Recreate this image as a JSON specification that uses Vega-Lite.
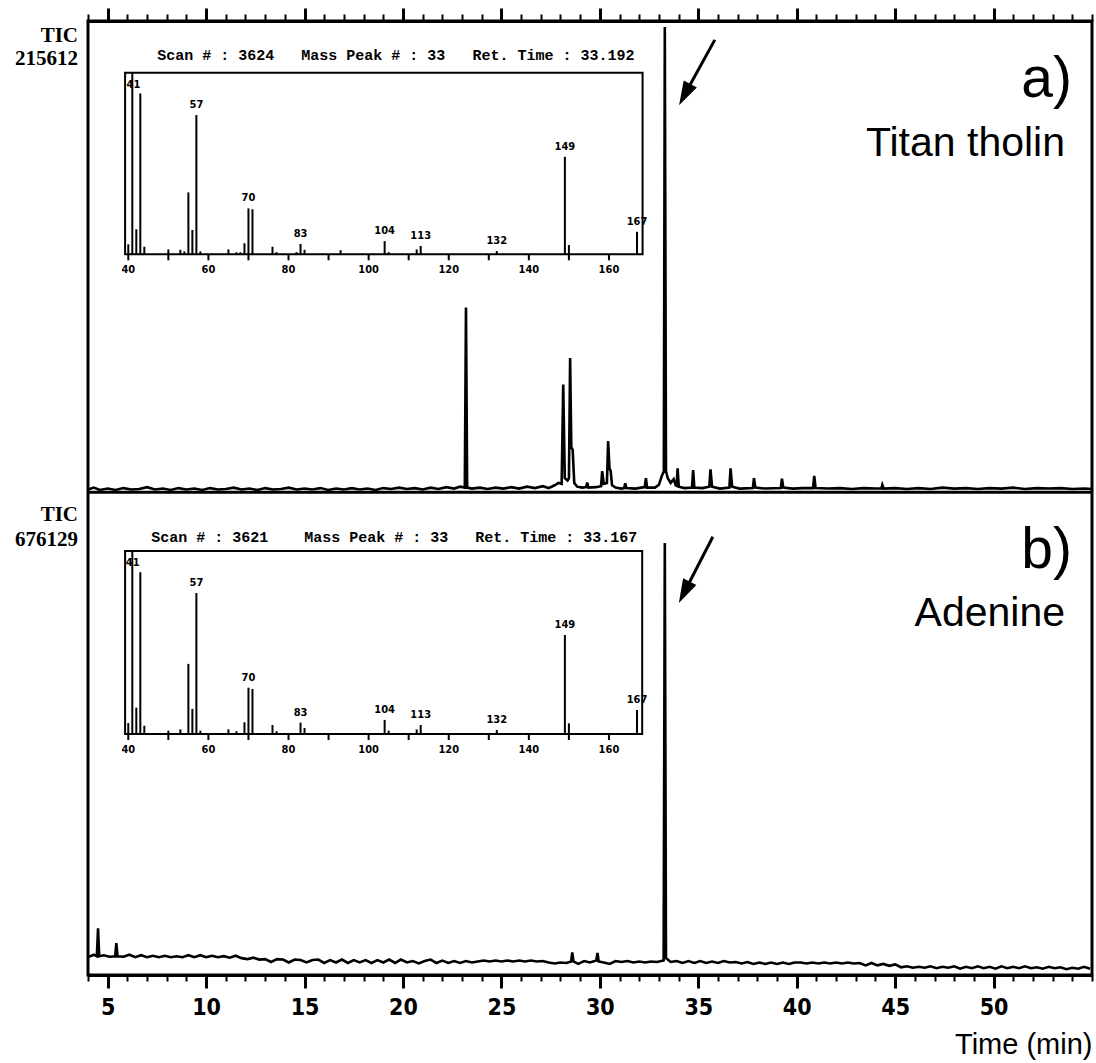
{
"$schema": "https://vega.github.io/schema/vega-lite/v6.json",
"width": 1004, "height": 954,
"autosize": {"type": "none"},
"padding": {"left": 88, "top": 21, "right": 4, "bottom": 88},
"background": "white",
"config": {"view": {"stroke": "black", "strokeWidth": 3}, "axis": {"grid": false, "domain": false}},
"datasets": {
"chromA": [{"t":4.0,"v":0.6},{"t":4.3,"v":1.0},{"t":4.6,"v":0.5},{"t":5.0,"v":0.8},{"t":5.4,"v":0.5},{"t":5.8,"v":0.9},{"t":6.2,"v":0.6},{"t":6.6,"v":0.7},{"t":7.0,"v":1.1},{"t":7.4,"v":0.6},{"t":7.8,"v":0.8},{"t":8.2,"v":0.5},{"t":8.6,"v":0.9},{"t":9.0,"v":0.6},{"t":9.4,"v":0.8},{"t":9.8,"v":0.5},{"t":10.2,"v":0.9},{"t":10.6,"v":0.6},{"t":11.0,"v":0.7},{"t":11.4,"v":1.0},{"t":11.8,"v":0.6},{"t":12.2,"v":0.8},{"t":12.6,"v":0.5},{"t":13.0,"v":0.9},{"t":13.4,"v":0.6},{"t":13.8,"v":0.7},{"t":14.2,"v":1.0},{"t":14.6,"v":0.6},{"t":15.0,"v":0.8},{"t":15.4,"v":0.6},{"t":15.8,"v":0.9},{"t":16.2,"v":0.5},{"t":16.6,"v":0.8},{"t":17.0,"v":0.6},{"t":17.4,"v":0.9},{"t":17.8,"v":0.6},{"t":18.2,"v":0.8},{"t":18.6,"v":0.5},{"t":19.0,"v":0.9},{"t":19.4,"v":0.7},{"t":19.8,"v":1.0},{"t":20.2,"v":0.7},{"t":20.6,"v":0.9},{"t":21.0,"v":0.6},{"t":21.4,"v":1.0},{"t":21.8,"v":0.7},{"t":22.2,"v":1.1},{"t":22.6,"v":0.8},{"t":22.9,"v":1.2},{"t":23.14,"v":1.0},{"t":23.2,"v":39.2},{"t":23.26,"v":1.0},{"t":23.5,"v":0.8},{"t":23.9,"v":1.0},{"t":24.3,"v":0.7},{"t":24.7,"v":1.0},{"t":25.1,"v":0.8},{"t":25.5,"v":1.1},{"t":25.9,"v":0.8},{"t":26.3,"v":1.2},{"t":26.7,"v":0.9},{"t":27.1,"v":1.3},{"t":27.4,"v":0.9},{"t":27.7,"v":1.5},{"t":27.9,"v":2.0},{"t":28.06,"v":1.8},{"t":28.14,"v":22.9},{"t":28.22,"v":3.0},{"t":28.36,"v":2.5},{"t":28.43,"v":3.0},{"t":28.49,"v":28.5},{"t":28.55,"v":9.6},{"t":28.62,"v":9.0},{"t":28.7,"v":2.0},{"t":28.85,"v":1.2},{"t":29.1,"v":1.0},{"t":29.3,"v":1.1},{"t":29.36,"v":2.1},{"t":29.42,"v":1.0},{"t":29.8,"v":1.1},{"t":30.06,"v":1.3},{"t":30.12,"v":4.5},{"t":30.2,"v":1.8},{"t":30.36,"v":2.0},{"t":30.42,"v":10.9},{"t":30.49,"v":5.1},{"t":30.55,"v":4.5},{"t":30.62,"v":1.5},{"t":30.8,"v":1.0},{"t":31.1,"v":0.8},{"t":31.23,"v":0.9},{"t":31.29,"v":1.9},{"t":31.35,"v":0.9},{"t":31.8,"v":0.8},{"t":32.1,"v":1.0},{"t":32.28,"v":1.1},{"t":32.34,"v":3.0},{"t":32.4,"v":1.0},{"t":32.8,"v":1.0},{"t":33.0,"v":1.6},{"t":33.15,"v":3.5},{"t":33.25,"v":4.5},{"t":33.3,"v":98.7},{"t":33.36,"v":4.5},{"t":33.45,"v":3.0},{"t":33.6,"v":2.0},{"t":33.75,"v":2.8},{"t":33.85,"v":1.5},{"t":33.9,"v":1.4},{"t":33.95,"v":5.1},{"t":34.01,"v":1.2},{"t":34.3,"v":0.9},{"t":34.68,"v":1.0},{"t":34.74,"v":4.7},{"t":34.8,"v":1.0},{"t":35.2,"v":0.9},{"t":35.56,"v":1.2},{"t":35.62,"v":4.9},{"t":35.7,"v":1.2},{"t":36.1,"v":0.8},{"t":36.58,"v":1.0},{"t":36.64,"v":5.1},{"t":36.72,"v":1.2},{"t":37.1,"v":0.8},{"t":37.77,"v":0.9},{"t":37.83,"v":3.0},{"t":37.9,"v":1.0},{"t":38.4,"v":0.8},{"t":39.19,"v":0.9},{"t":39.25,"v":2.9},{"t":39.32,"v":1.0},{"t":39.8,"v":0.8},{"t":40.3,"v":0.9},{"t":40.83,"v":0.9},{"t":40.89,"v":3.5},{"t":40.96,"v":0.9},{"t":41.6,"v":0.8},{"t":42.2,"v":0.9},{"t":42.8,"v":0.7},{"t":43.4,"v":0.9},{"t":44.0,"v":0.8},{"t":44.3,"v":0.8},{"t":44.35,"v":1.6},{"t":44.42,"v":0.8},{"t":45.0,"v":0.9},{"t":45.6,"v":0.7},{"t":46.2,"v":0.9},{"t":46.8,"v":0.7},{"t":47.4,"v":1.0},{"t":48.0,"v":0.8},{"t":48.6,"v":0.9},{"t":49.2,"v":0.7},{"t":49.8,"v":0.9},{"t":50.4,"v":0.8},{"t":51.0,"v":1.0},{"t":51.6,"v":0.7},{"t":52.2,"v":0.9},{"t":52.8,"v":0.8},{"t":53.4,"v":0.9},{"t":54.0,"v":0.7},{"t":54.6,"v":0.8},{"t":55.0,"v":0.7}],
"chromB": [{"t":4.0,"v":3.7},{"t":4.3,"v":4.2},{"t":4.45,"v":3.9},{"t":4.51,"v":9.7},{"t":4.57,"v":3.9},{"t":4.8,"v":4.1},{"t":5.1,"v":3.8},{"t":5.38,"v":3.9},{"t":5.44,"v":6.6},{"t":5.5,"v":3.9},{"t":5.8,"v":3.8},{"t":6.1,"v":4.2},{"t":6.4,"v":3.7},{"t":6.7,"v":4.1},{"t":7.0,"v":3.7},{"t":7.3,"v":4.0},{"t":7.6,"v":3.7},{"t":7.9,"v":4.0},{"t":8.2,"v":3.7},{"t":8.5,"v":3.9},{"t":8.8,"v":3.7},{"t":9.1,"v":4.1},{"t":9.4,"v":3.7},{"t":9.7,"v":4.1},{"t":10.0,"v":3.7},{"t":10.3,"v":4.0},{"t":10.6,"v":3.7},{"t":10.9,"v":3.9},{"t":11.2,"v":3.6},{"t":11.5,"v":4.0},{"t":11.8,"v":3.5},{"t":12.1,"v":3.3},{"t":12.4,"v":3.6},{"t":12.7,"v":3.2},{"t":13.0,"v":3.3},{"t":13.3,"v":2.7},{"t":13.6,"v":3.3},{"t":13.9,"v":3.2},{"t":14.2,"v":2.6},{"t":14.5,"v":3.2},{"t":14.8,"v":3.1},{"t":15.1,"v":2.6},{"t":15.4,"v":3.1},{"t":15.7,"v":3.2},{"t":16.0,"v":2.5},{"t":16.3,"v":3.1},{"t":16.6,"v":2.6},{"t":16.9,"v":3.2},{"t":17.2,"v":2.5},{"t":17.5,"v":3.1},{"t":17.8,"v":2.6},{"t":18.1,"v":3.1},{"t":18.4,"v":2.5},{"t":18.7,"v":3.1},{"t":19.0,"v":2.6},{"t":19.3,"v":3.2},{"t":19.6,"v":2.5},{"t":19.9,"v":3.2},{"t":20.2,"v":2.6},{"t":20.5,"v":2.9},{"t":20.8,"v":2.4},{"t":21.1,"v":2.9},{"t":21.4,"v":3.2},{"t":21.7,"v":2.5},{"t":22.0,"v":3.0},{"t":22.3,"v":2.5},{"t":22.6,"v":2.9},{"t":22.9,"v":2.5},{"t":23.2,"v":2.9},{"t":23.5,"v":2.6},{"t":23.8,"v":2.8},{"t":24.1,"v":3.0},{"t":24.4,"v":2.8},{"t":24.7,"v":3.0},{"t":25.0,"v":2.8},{"t":25.3,"v":3.0},{"t":25.6,"v":2.8},{"t":25.9,"v":3.0},{"t":26.2,"v":2.8},{"t":26.5,"v":3.0},{"t":26.8,"v":2.8},{"t":27.1,"v":2.9},{"t":27.4,"v":2.6},{"t":27.7,"v":2.4},{"t":28.0,"v":2.6},{"t":28.3,"v":2.5},{"t":28.54,"v":2.8},{"t":28.6,"v":4.7},{"t":28.66,"v":2.8},{"t":28.9,"v":2.3},{"t":29.2,"v":2.9},{"t":29.5,"v":2.6},{"t":29.82,"v":3.0},{"t":29.88,"v":4.6},{"t":29.94,"v":2.8},{"t":30.2,"v":2.6},{"t":30.5,"v":2.3},{"t":30.8,"v":2.9},{"t":31.1,"v":2.7},{"t":31.4,"v":2.9},{"t":31.7,"v":2.6},{"t":32.0,"v":2.8},{"t":32.3,"v":2.6},{"t":32.6,"v":2.8},{"t":32.9,"v":2.7},{"t":33.24,"v":3.0},{"t":33.3,"v":89.6},{"t":33.36,"v":3.5},{"t":33.6,"v":2.7},{"t":33.9,"v":2.9},{"t":34.2,"v":2.5},{"t":34.5,"v":2.9},{"t":34.8,"v":2.5},{"t":35.1,"v":2.9},{"t":35.4,"v":2.5},{"t":35.7,"v":2.8},{"t":36.0,"v":2.5},{"t":36.3,"v":2.9},{"t":36.6,"v":2.6},{"t":36.9,"v":2.7},{"t":37.2,"v":2.4},{"t":37.5,"v":2.7},{"t":37.8,"v":2.3},{"t":38.1,"v":2.6},{"t":38.4,"v":2.3},{"t":38.7,"v":2.6},{"t":39.0,"v":2.3},{"t":39.3,"v":2.6},{"t":39.6,"v":2.3},{"t":39.9,"v":2.6},{"t":40.2,"v":2.6},{"t":40.5,"v":2.4},{"t":40.8,"v":2.6},{"t":41.1,"v":2.4},{"t":41.4,"v":2.6},{"t":41.7,"v":2.4},{"t":42.0,"v":2.6},{"t":42.3,"v":2.4},{"t":42.6,"v":2.6},{"t":42.9,"v":2.4},{"t":43.2,"v":2.5},{"t":43.5,"v":2.0},{"t":43.8,"v":2.5},{"t":44.1,"v":2.0},{"t":44.4,"v":2.3},{"t":44.7,"v":1.9},{"t":45.0,"v":2.2},{"t":45.3,"v":1.6},{"t":45.6,"v":1.8},{"t":45.9,"v":1.5},{"t":46.2,"v":1.7},{"t":46.5,"v":1.5},{"t":46.8,"v":1.8},{"t":47.1,"v":1.4},{"t":47.4,"v":1.7},{"t":47.7,"v":1.5},{"t":48.0,"v":1.8},{"t":48.3,"v":1.3},{"t":48.6,"v":1.7},{"t":48.9,"v":1.4},{"t":49.2,"v":1.8},{"t":49.5,"v":1.4},{"t":49.8,"v":1.7},{"t":50.1,"v":1.3},{"t":50.4,"v":1.8},{"t":50.7,"v":1.4},{"t":51.0,"v":1.7},{"t":51.3,"v":1.4},{"t":51.6,"v":1.8},{"t":51.9,"v":1.4},{"t":52.2,"v":1.6},{"t":52.5,"v":1.3},{"t":52.8,"v":1.7},{"t":53.1,"v":1.4},{"t":53.4,"v":1.6},{"t":53.7,"v":1.2},{"t":54.0,"v":1.5},{"t":54.3,"v":1.3},{"t":54.6,"v":1.7},{"t":54.9,"v":1.3}],
"specA": [{"mz":40,"rel":5.5},{"mz":41,"rel":100},{"mz":42,"rel":13.8},{"mz":43,"rel":88.6},{"mz":44,"rel":4.2},{"mz":50,"rel":2.7},{"mz":53,"rel":2.5},{"mz":54,"rel":1.6},{"mz":55,"rel":34.1},{"mz":56,"rel":13.4},{"mz":57,"rel":76.7},{"mz":58,"rel":1.6},{"mz":65,"rel":2.7},{"mz":67,"rel":1.1},{"mz":68,"rel":1.1},{"mz":69,"rel":6.1},{"mz":70,"rel":25.3},{"mz":71,"rel":24.8},{"mz":76,"rel":4.2},{"mz":77,"rel":1.2},{"mz":82,"rel":1.2},{"mz":83,"rel":5.7},{"mz":84,"rel":2.5},{"mz":93,"rel":2.3},{"mz":104,"rel":7.3},{"mz":105,"rel":1.2},{"mz":112,"rel":2.7},{"mz":113,"rel":4.6},{"mz":132,"rel":1.8},{"mz":149,"rel":53.7},{"mz":150,"rel":5.1},{"mz":167,"rel":12.4}],
"specB": [{"mz":40,"rel":6},{"mz":41,"rel":100},{"mz":42,"rel":14.4},{"mz":43,"rel":88.4},{"mz":44,"rel":4.5},{"mz":50,"rel":1.8},{"mz":53,"rel":2.5},{"mz":55,"rel":38.3},{"mz":56,"rel":13.7},{"mz":57,"rel":77},{"mz":58,"rel":1.8},{"mz":65,"rel":2.5},{"mz":67,"rel":1.5},{"mz":69,"rel":6.4},{"mz":70,"rel":25.3},{"mz":71,"rel":24.6},{"mz":76,"rel":4.9},{"mz":77,"rel":1.5},{"mz":83,"rel":6.2},{"mz":84,"rel":3.3},{"mz":104,"rel":7.7},{"mz":105,"rel":1.8},{"mz":112,"rel":2.5},{"mz":113,"rel":4.9},{"mz":132,"rel":2.2},{"mz":149,"rel":54.1},{"mz":150,"rel":5.8},{"mz":167,"rel":13.1}],
"mzTicks": [{"mz":40},{"mz":50},{"mz":60},{"mz":70},{"mz":80},{"mz":90},{"mz":100},{"mz":110},{"mz":120},{"mz":130},{"mz":140},{"mz":150},{"mz":160}]
},
"resolve": {"scale": {"x": "independent", "y": "independent"}, "axis": {"x": "independent", "y": "independent"}},
"layer": [
{
"resolve": {"axis": {"x": "independent"}},
"layer": [
{"data": {"name": "chromA"}, "mark": {"type": "line", "color": "black", "strokeWidth": 2.6},
 "encoding": {
  "x": {"field": "t", "type": "quantitative", "scale": {"domain": [4, 55], "nice": false, "zero": false},
        "axis": {"orient": "top", "values": [5,10,15,20,25,30,35,40,45,50], "tickSize": 13, "tickWidth": 3, "tickColor": "black", "labels": false, "domain": true, "domainColor": "black", "domainWidth": 3, "title": null}},
  "y": {"field": "v", "type": "quantitative", "scale": {"domain": [-102.4, 100], "nice": false, "zero": false}, "axis": null}}},
{"data": {"values": [{}]}, "mark": {"type": "rule", "color": "black", "strokeWidth": 3},
 "encoding": {
  "x": {"datum": 4, "type": "quantitative", "scale": {"domain": [4, 55], "nice": false, "zero": false},
        "axis": {"orient": "top", "values": [4,5,6,7,8,9,10,11,12,13,14,15,16,17,18,19,20,21,22,23,24,25,26,27,28,29,30,31,32,33,34,35,36,37,38,39,40,41,42,43,44,45,46,47,48,49,50,51,52,53,54,55], "tickSize": 7, "tickWidth": 2, "tickColor": "black", "labels": false, "domain": false, "title": null}},
  "x2": {"datum": 55},
  "y": {"datum": 0, "type": "quantitative", "scale": {"domain": [-102.4, 100], "nice": false, "zero": false}, "axis": null}}},
{"data": {"values": [{}]}, "mark": {"type": "text", "text": "TIC", "align": "right", "baseline": "middle", "dx": -10, "font": "Liberation Serif", "fontSize": 21, "fontWeight": "bold", "color": "black"},
 "encoding": {
  "x": {"datum": 4, "type": "quantitative", "scale": {"domain": [4, 55], "nice": false, "zero": false}, "axis": null},
  "y": {"datum": 96.8, "type": "quantitative", "scale": {"domain": [-102.4, 100], "nice": false, "zero": false}, "axis": null}}},
{"data": {"values": [{}]}, "mark": {"type": "text", "text": "215612", "align": "right", "baseline": "middle", "dx": -10, "font": "Liberation Serif", "fontSize": 21, "fontWeight": "bold", "color": "black"},
 "encoding": {
  "x": {"datum": 4, "type": "quantitative", "scale": {"domain": [4, 55], "nice": false, "zero": false}, "axis": null},
  "y": {"datum": 92.0, "type": "quantitative", "scale": {"domain": [-102.4, 100], "nice": false, "zero": false}, "axis": null}}},
{"data": {"values": [{}]}, "mark": {"type": "text", "text": "a)", "align": "right", "baseline": "alphabetic", "font": "Liberation Sans", "fontSize": 57, "color": "black"},
 "encoding": {
  "x": {"datum": 53.98, "type": "quantitative", "scale": {"domain": [4, 55], "nice": false, "zero": false}, "axis": null},
  "y": {"datum": 83.9, "type": "quantitative", "scale": {"domain": [-102.4, 100], "nice": false, "zero": false}, "axis": null}}},
{"data": {"values": [{}]}, "mark": {"type": "text", "text": "Titan tholin", "align": "right", "baseline": "alphabetic", "font": "Liberation Sans", "fontSize": 41, "color": "black"},
 "encoding": {
  "x": {"datum": 53.63, "type": "quantitative", "scale": {"domain": [4, 55], "nice": false, "zero": false}, "axis": null},
  "y": {"datum": 71.4, "type": "quantitative", "scale": {"domain": [-102.4, 100], "nice": false, "zero": false}, "axis": null}}},
{"data": {"values": [{}]}, "mark": {"type": "rule", "color": "black", "strokeWidth": 3},
 "encoding": {
  "x": {"datum": 35.84, "type": "quantitative", "scale": {"domain": [4, 55], "nice": false, "zero": false}, "axis": null},
  "x2": {"datum": 34.31},
  "y": {"datum": 96.0, "type": "quantitative", "scale": {"domain": [-102.4, 100], "nice": false, "zero": false}, "axis": null},
  "y2": {"datum": 84.4}}},
{"data": {"values": [{}]}, "mark": {"type": "point", "shape": "M0,-1L-0.62,1L0.62,1Z", "filled": true, "color": "black", "opacity": 1, "size": 576, "angle": 208},
 "encoding": {
  "x": {"datum": 34.31, "type": "quantitative", "scale": {"domain": [4, 55], "nice": false, "zero": false}, "axis": null},
  "y": {"datum": 84.4, "type": "quantitative", "scale": {"domain": [-102.4, 100], "nice": false, "zero": false}, "axis": null}}}
]
},
{
"resolve": {"axis": {"x": "independent"}},
"layer": [
{"data": {"name": "chromB"}, "mark": {"type": "line", "color": "black", "strokeWidth": 2.6},
 "encoding": {
  "x": {"field": "t", "type": "quantitative", "scale": {"domain": [4, 55], "nice": false, "zero": false},
        "axis": {"orient": "bottom", "values": [5,10,15,20,25,30,35,40,45,50], "tickSize": 13, "tickWidth": 3, "tickColor": "black", "domain": true, "domainColor": "black", "domainWidth": 3,
                 "labelFont": "Liberation Sans Narrow, DejaVu Sans Condensed, sans-serif", "labelFontSize": 23, "labelFontWeight": "bold", "labelColor": "black", "labelPadding": 8, "labelFlush": false,
                 "title": "Time (min)", "titleFont": "Liberation Sans", "titleFontSize": 29, "titleFontWeight": "normal", "titleColor": "black", "titleAnchor": "end", "titlePadding": 11}},
  "y": {"field": "v", "type": "quantitative", "scale": {"domain": [0, 197.9], "nice": false, "zero": false}, "axis": null}}},
{"data": {"values": [{}]}, "mark": {"type": "rule", "color": "black", "strokeWidth": 3},
 "encoding": {
  "x": {"datum": 35.74, "type": "quantitative", "scale": {"domain": [4, 55], "nice": false, "zero": false},
        "axis": {"orient": "bottom", "values": [4,5,6,7,8,9,10,11,12,13,14,15,16,17,18,19,20,21,22,23,24,25,26,27,28,29,30,31,32,33,34,35,36,37,38,39,40,41,42,43,44,45,46,47,48,49,50,51,52,53,54,55], "tickSize": 6, "tickWidth": 2, "tickColor": "black", "labels": false, "domain": false, "title": null}},
  "x2": {"datum": 34.29},
  "y": {"datum": 90.9, "type": "quantitative", "scale": {"domain": [0, 197.9], "nice": false, "zero": false}, "axis": null},
  "y2": {"datum": 79.4}}},
{"data": {"values": [{}]}, "mark": {"type": "point", "shape": "M0,-1L-0.62,1L0.62,1Z", "filled": true, "color": "black", "opacity": 1, "size": 576, "angle": 207},
 "encoding": {
  "x": {"datum": 34.29, "type": "quantitative", "scale": {"domain": [4, 55], "nice": false, "zero": false}, "axis": null},
  "y": {"datum": 79.4, "type": "quantitative", "scale": {"domain": [0, 197.9], "nice": false, "zero": false}, "axis": null}}},
{"data": {"values": [{}]}, "mark": {"type": "text", "text": "TIC", "align": "right", "baseline": "middle", "dx": -10, "font": "Liberation Serif", "fontSize": 21, "fontWeight": "bold", "color": "black"},
 "encoding": {
  "x": {"datum": 4, "type": "quantitative", "scale": {"domain": [4, 55], "nice": false, "zero": false}, "axis": null},
  "y": {"datum": 95.4, "type": "quantitative", "scale": {"domain": [0, 197.9], "nice": false, "zero": false}, "axis": null}}},
{"data": {"values": [{}]}, "mark": {"type": "text", "text": "676129", "align": "right", "baseline": "middle", "dx": -10, "font": "Liberation Serif", "fontSize": 21, "fontWeight": "bold", "color": "black"},
 "encoding": {
  "x": {"datum": 4, "type": "quantitative", "scale": {"domain": [4, 55], "nice": false, "zero": false}, "axis": null},
  "y": {"datum": 90.2, "type": "quantitative", "scale": {"domain": [0, 197.9], "nice": false, "zero": false}, "axis": null}}},
{"data": {"values": [{}]}, "mark": {"type": "text", "text": "b)", "align": "right", "baseline": "alphabetic", "font": "Liberation Sans", "fontSize": 57, "color": "black"},
 "encoding": {
  "x": {"datum": 53.98, "type": "quantitative", "scale": {"domain": [4, 55], "nice": false, "zero": false}, "axis": null},
  "y": {"datum": 84.4, "type": "quantitative", "scale": {"domain": [0, 197.9], "nice": false, "zero": false}, "axis": null}}},
{"data": {"values": [{}]}, "mark": {"type": "text", "text": "Adenine", "align": "right", "baseline": "alphabetic", "font": "Liberation Sans", "fontSize": 41, "color": "black"},
 "encoding": {
  "x": {"datum": 53.63, "type": "quantitative", "scale": {"domain": [4, 55], "nice": false, "zero": false}, "axis": null},
  "y": {"datum": 72.4, "type": "quantitative", "scale": {"domain": [0, 197.9], "nice": false, "zero": false}, "axis": null}}}
]
},
{
"layer": [
{"data": {"name": "specA"}, "mark": {"type": "rule", "color": "black", "strokeWidth": 2},
 "encoding": {
  "x": {"field": "mz", "type": "quantitative", "scale": {"domain": [29.94, 280.6], "nice": false, "zero": false}, "axis": null},
  "y": {"field": "rel", "type": "quantitative", "scale": {"domain": [-396.9, 128.5], "nice": false, "zero": false}, "axis": null},
  "y2": {"datum": 0}}},
{"data": {"name": "mzTicks"}, "mark": {"type": "rule", "color": "black", "strokeWidth": 2},
 "encoding": {
  "x": {"field": "mz", "type": "quantitative", "scale": {"domain": [29.94, 280.6], "nice": false, "zero": false}, "axis": null},
  "y": {"datum": 0, "type": "quantitative", "scale": {"domain": [-396.9, 128.5], "nice": false, "zero": false}, "axis": null},
  "y2": {"datum": -3.3}}},
{"data": {"name": "mzTicks"}, "transform": [{"filter": "datum.mz % 20 === 0"}],
 "mark": {"type": "text", "baseline": "middle", "align": "center", "dy": 16, "font": "Liberation Sans Narrow, DejaVu Sans Condensed, sans-serif", "fontSize": 11, "fontWeight": "bold", "color": "black"},
 "encoding": {
  "x": {"field": "mz", "type": "quantitative", "scale": {"domain": [29.94, 280.6], "nice": false, "zero": false}, "axis": null},
  "y": {"datum": 0, "type": "quantitative", "scale": {"domain": [-396.9, 128.5], "nice": false, "zero": false}, "axis": null},
  "text": {"field": "mz", "type": "quantitative"}}},
{"data": {"values": [{}]}, "mark": {"type": "rect", "filled": false, "color": "black", "strokeWidth": 2},
 "encoding": {
  "x": {"datum": 39.2, "type": "quantitative", "scale": {"domain": [29.94, 280.6], "nice": false, "zero": false}, "axis": null},
  "x2": {"datum": 168.4},
  "y": {"datum": 0, "type": "quantitative", "scale": {"domain": [-396.9, 128.5], "nice": false, "zero": false}, "axis": null},
  "y2": {"datum": 100}}},
{"data": {"name": "specA"}, "transform": [{"filter": {"field": "mz", "oneOf": [57, 70, 83, 104, 113, 132, 149, 167]}}],
 "mark": {"type": "text", "baseline": "middle", "align": "center", "dy": -10, "font": "Liberation Sans Narrow, DejaVu Sans Condensed, sans-serif", "fontSize": 11, "fontWeight": "bold", "color": "black"},
 "encoding": {
  "x": {"field": "mz", "type": "quantitative", "scale": {"domain": [29.94, 280.6], "nice": false, "zero": false}, "axis": null},
  "y": {"field": "rel", "type": "quantitative", "scale": {"domain": [-396.9, 128.5], "nice": false, "zero": false}, "axis": null},
  "text": {"field": "mz", "type": "quantitative"}}},
{"data": {"values": [{}]}, "mark": {"type": "text", "text": "41", "baseline": "middle", "align": "center", "font": "Liberation Sans Narrow, DejaVu Sans Condensed, sans-serif", "fontSize": 11, "fontWeight": "bold", "color": "black"},
 "encoding": {
  "x": {"datum": 41.3, "type": "quantitative", "scale": {"domain": [29.94, 280.6], "nice": false, "zero": false}, "axis": null},
  "y": {"datum": 93.2, "type": "quantitative", "scale": {"domain": [-396.9, 128.5], "nice": false, "zero": false}, "axis": null}}},
{"data": {"values": [{}]}, "mark": {"type": "text", "text": "Scan # : 3624\u00a0\u00a0\u00a0Mass Peak # : 33\u00a0\u00a0\u00a0Ret. Time : 33.192", "baseline": "middle", "align": "center", "font": "Liberation Mono", "fontSize": 15, "fontWeight": "bold", "color": "black"},
 "encoding": {
  "x": {"datum": 106.8, "type": "quantitative", "scale": {"domain": [29.94, 280.6], "nice": false, "zero": false}, "axis": null},
  "y": {"datum": 109.7, "type": "quantitative", "scale": {"domain": [-396.9, 128.5], "nice": false, "zero": false}, "axis": null}}}
]
},
{
"layer": [
{"data": {"name": "specB"}, "mark": {"type": "rule", "color": "black", "strokeWidth": 2},
 "encoding": {
  "x": {"field": "mz", "type": "quantitative", "scale": {"domain": [29.94, 280.6], "nice": false, "zero": false}, "axis": null},
  "y": {"field": "rel", "type": "quantitative", "scale": {"domain": [-131.7, 389.6], "nice": false, "zero": false}, "axis": null},
  "y2": {"datum": 0}}},
{"data": {"name": "mzTicks"}, "mark": {"type": "rule", "color": "black", "strokeWidth": 2},
 "encoding": {
  "x": {"field": "mz", "type": "quantitative", "scale": {"domain": [29.94, 280.6], "nice": false, "zero": false}, "axis": null},
  "y": {"datum": 0, "type": "quantitative", "scale": {"domain": [-131.7, 389.6], "nice": false, "zero": false}, "axis": null},
  "y2": {"datum": -3.3}}},
{"data": {"name": "mzTicks"}, "transform": [{"filter": "datum.mz % 20 === 0"}],
 "mark": {"type": "text", "baseline": "middle", "align": "center", "dy": 16, "font": "Liberation Sans Narrow, DejaVu Sans Condensed, sans-serif", "fontSize": 11, "fontWeight": "bold", "color": "black"},
 "encoding": {
  "x": {"field": "mz", "type": "quantitative", "scale": {"domain": [29.94, 280.6], "nice": false, "zero": false}, "axis": null},
  "y": {"datum": 0, "type": "quantitative", "scale": {"domain": [-131.7, 389.6], "nice": false, "zero": false}, "axis": null},
  "text": {"field": "mz", "type": "quantitative"}}},
{"data": {"values": [{}]}, "mark": {"type": "rect", "filled": false, "color": "black", "strokeWidth": 2},
 "encoding": {
  "x": {"datum": 39.2, "type": "quantitative", "scale": {"domain": [29.94, 280.6], "nice": false, "zero": false}, "axis": null},
  "x2": {"datum": 168.3},
  "y": {"datum": 0, "type": "quantitative", "scale": {"domain": [-131.7, 389.6], "nice": false, "zero": false}, "axis": null},
  "y2": {"datum": 100}}},
{"data": {"name": "specB"}, "transform": [{"filter": {"field": "mz", "oneOf": [57, 70, 83, 104, 113, 132, 149, 167]}}],
 "mark": {"type": "text", "baseline": "middle", "align": "center", "dy": -10, "font": "Liberation Sans Narrow, DejaVu Sans Condensed, sans-serif", "fontSize": 11, "fontWeight": "bold", "color": "black"},
 "encoding": {
  "x": {"field": "mz", "type": "quantitative", "scale": {"domain": [29.94, 280.6], "nice": false, "zero": false}, "axis": null},
  "y": {"field": "rel", "type": "quantitative", "scale": {"domain": [-131.7, 389.6], "nice": false, "zero": false}, "axis": null},
  "text": {"field": "mz", "type": "quantitative"}}},
{"data": {"values": [{}]}, "mark": {"type": "text", "text": "41", "baseline": "middle", "align": "center", "font": "Liberation Sans Narrow, DejaVu Sans Condensed, sans-serif", "fontSize": 11, "fontWeight": "bold", "color": "black"},
 "encoding": {
  "x": {"datum": 41.1, "type": "quantitative", "scale": {"domain": [29.94, 280.6], "nice": false, "zero": false}, "axis": null},
  "y": {"datum": 93.3, "type": "quantitative", "scale": {"domain": [-131.7, 389.6], "nice": false, "zero": false}, "axis": null}}},
{"data": {"values": [{}]}, "mark": {"type": "text", "text": "Scan # : 3621\u00a0\u00a0\u00a0\u00a0Mass Peak # : 33\u00a0\u00a0\u00a0Ret. Time : 33.167", "baseline": "middle", "align": "center", "font": "Liberation Mono", "fontSize": 15, "fontWeight": "bold", "color": "black"},
 "encoding": {
  "x": {"datum": 106.4, "type": "quantitative", "scale": {"domain": [29.94, 280.6], "nice": false, "zero": false}, "axis": null},
  "y": {"datum": 107.7, "type": "quantitative", "scale": {"domain": [-131.7, 389.6], "nice": false, "zero": false}, "axis": null}}}
]
}
]
}
